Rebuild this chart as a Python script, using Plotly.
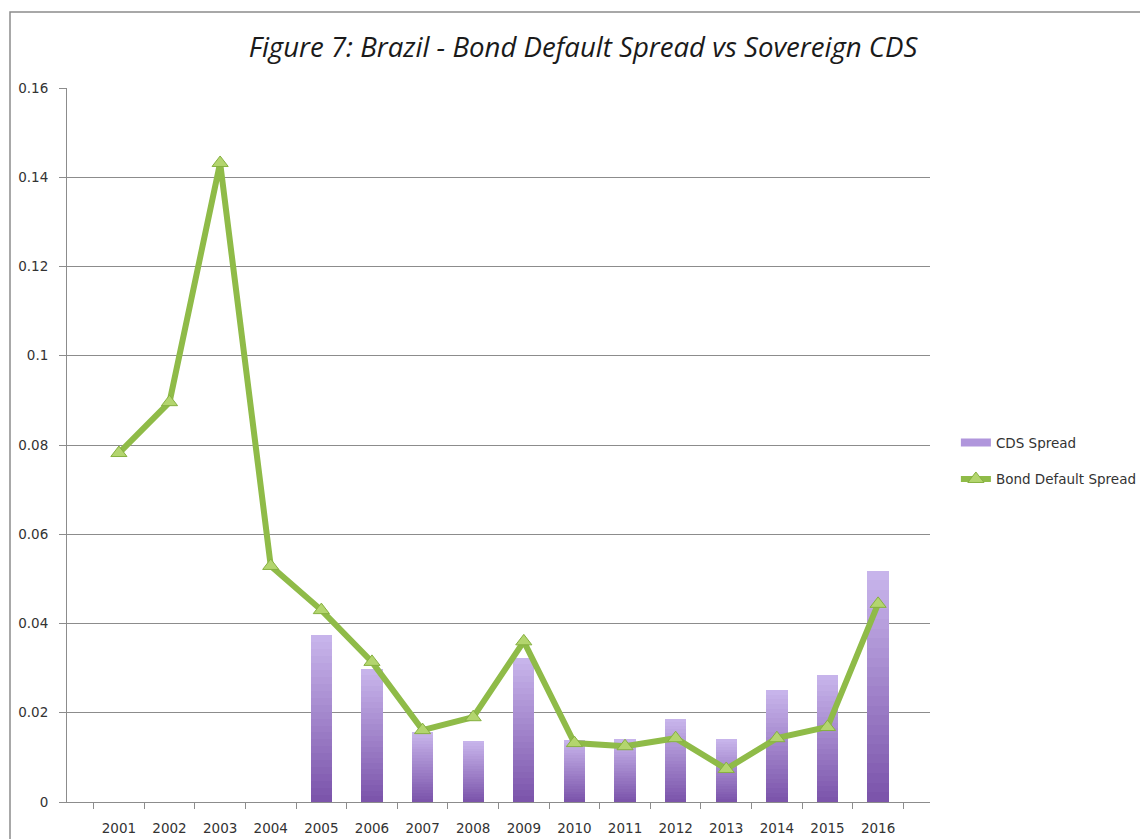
"""
Brazil - Bond Default Spread vs Sovereign CDS
"""

import plotly.graph_objects as go

years = [str(y) for y in range(2001, 2017)]

cds_spread = [None, None, None, None, 0.0374, 0.0298, 0.0157, 0.0137,
              0.0323, 0.0139, 0.0141, 0.0186, 0.0141, 0.0251, 0.0285, 0.0518]

bond_default_spread = [0.0782, 0.0896, 0.1432, 0.0529, 0.0430, 0.0314, 0.0161, 0.0190,
                       0.0360, 0.0132, 0.0125, 0.0143, 0.0074, 0.0143, 0.0168, 0.0444]

y_tick_vals = [0, 0.02, 0.04, 0.06, 0.08, 0.1, 0.12, 0.14, 0.16]
y_tick_text = ["0", "0.02", "0.04", "0.06", "0.08", "0.1", "0.12", "0.14", "0.16"]

TITLE = "Figure 7: Brazil - Bond Default Spread vs Sovereign CDS"

# 막대 그라데이션 (위: 밝은 라벤더, 아래: 진한 보라)
LIGHT = (201, 182, 236)
DARK = (122, 83, 170)
N_LAYERS = 24


def mix(c1, c2, t):
    return "rgb({},{},{})".format(*[round(a + (b - a) * t) for a, b in zip(c1, c2)])


fig = go.Figure()

for k in range(N_LAYERS, 0, -1):
    frac = k / N_LAYERS
    layer = [v * frac if v is not None else None for v in cds_spread]
    fig.add_trace(
        go.Bar(
            x=years,
            y=layer,
            width=0.42,
            name="CDS Spread",
            marker=dict(color=mix(DARK, LIGHT, (k - 0.5) / N_LAYERS), line=dict(width=0)),
            showlegend=False,
            hoverinfo="skip" if k != N_LAYERS else None,
        )
    )

# 범례용 (넓은 사각형 모양)
fig.add_trace(
    go.Scatter(
        x=[None],
        y=[None],
        mode="lines",
        name="CDS Spread",
        legendgroup="cds",
        line=dict(color="#b096dc", width=8),
        legendrank=1,
    )
)

fig.add_trace(
    go.Scatter(
        x=years,
        y=bond_default_spread,
        mode="lines+markers",
        name="Bond Default Spread",
        legendgroup="bond",
        line=dict(color="#8fbb48", width=6),
        marker=dict(symbol="triangle-up", size=14, color="#b3d56e",
                    line=dict(color="#86b040", width=1)),
        legendrank=2,
    )
)

axis_grey = "#8c8c8c"
tick_font = dict(family="DejaVu Sans", size=13.5, color="#333333")

fig.update_layout(
    width=1148,
    height=839,
    barmode="overlay",
    bargap=0,
    plot_bgcolor="white",
    paper_bgcolor="white",
    font=dict(family="DejaVu Sans", size=13, color="#333333"),
    margin=dict(l=59, r=226, t=80, b=45, autoexpand=False),
    title=dict(
        text=TITLE,
        font=dict(family="Open Sans", size=27.6, color="#1a1a1a", style="italic"),
        x=0.598, xref="paper", xanchor="center",
        y=0.953, yref="container", yanchor="middle",
    ),
    legend=dict(
        x=1.03, y=0.525, xanchor="left", yanchor="top",
        font=dict(family="DejaVu Sans", size=13.5, color="#333333"),
        traceorder="grouped",
        tracegroupgap=16, itemwidth=30,
        bgcolor="rgba(0,0,0,0)",
    ),
    xaxis=dict(
        type="category",
        tickson="boundaries",
        ticks="outside",
        ticklen=6,
        tickcolor=axis_grey,
        showline=True,
        linecolor=axis_grey,
        linewidth=1,
        showgrid=False,
        ticklabelstandoff=14,
        tickfont=tick_font,
    ),
    yaxis=dict(
        range=[0, 0.16],
        tickvals=y_tick_vals,
        ticktext=y_tick_text,
        ticks="outside",
        ticklen=7,
        tickcolor=axis_grey,
        showline=True,
        linecolor=axis_grey,
        linewidth=1,
        showgrid=True,
        gridcolor=axis_grey,
        gridwidth=1,
        zeroline=False,
        ticklabelstandoff=8,
        tickfont=tick_font,
    ),
    shapes=[
        dict(
            type="rect", xref="paper", yref="paper",
            x0=(10 - 67) / 863, x1=1.5,
            y0=-0.2, y1=1 + (88 - 12) / 714,
            line=dict(color="#8c8c8c", width=1.5),
            fillcolor="rgba(0,0,0,0)",
            layer="below",
        )
    ],
)

fig.write_html("out.html")
